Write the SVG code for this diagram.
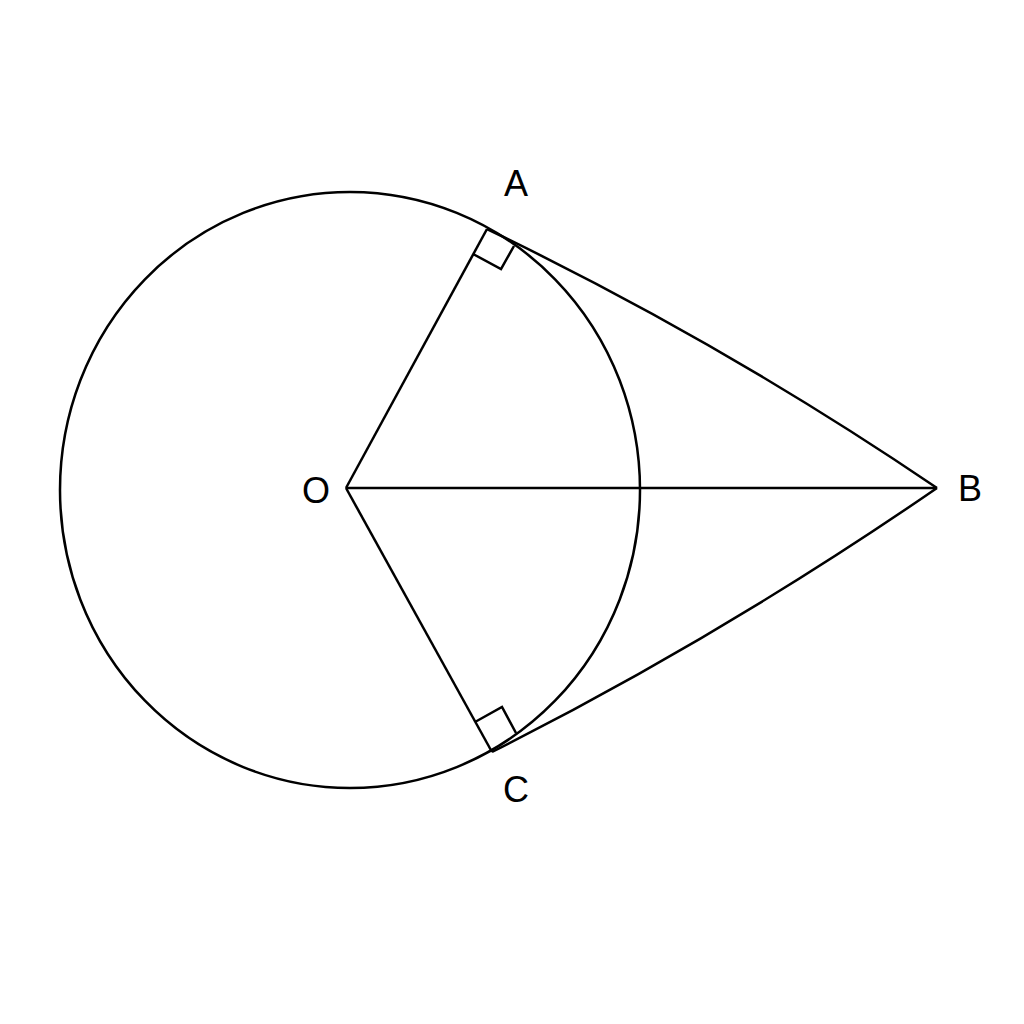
<svg xmlns="http://www.w3.org/2000/svg" width="1024" height="1024" viewBox="0 0 1024 1024">
<style>
.l{fill:none;stroke:#000;stroke-width:2.5;stroke-linejoin:miter}
.t{font-family:"Liberation Sans",Arial,sans-serif;font-size:36px;fill:#000;text-anchor:middle;dominant-baseline:central}
</style>
<rect width="1024" height="1024" fill="#fff"/>
<g id="circle"><ellipse class="l" cx="350" cy="490" rx="290" ry="298"/></g>
<g id="connectors">
<path class="l" d="M487,229 Q722,342 937,488"/>
<path class="l" d="M492,752 Q722,636 937,488"/>
<line class="l" x1="346" y1="488" x2="937" y2="488"/>
<line class="l" x1="346" y1="488" x2="487" y2="229"/>
<line class="l" x1="346" y1="488" x2="492" y2="752"/>
<polyline class="l" points="473,254 501,269 514,246"/>
<polyline class="l" points="475,722 502,707 516,733"/>
</g>
<g id="node-A"><text class="t" x="516" y="183">A</text></g>
<g id="node-B"><text class="t" x="970" y="488">B</text></g>
<g id="node-C"><text class="t" x="516" y="789">C</text></g>
<g id="node-O"><text class="t" x="316" y="490">O</text></g>
</svg>
